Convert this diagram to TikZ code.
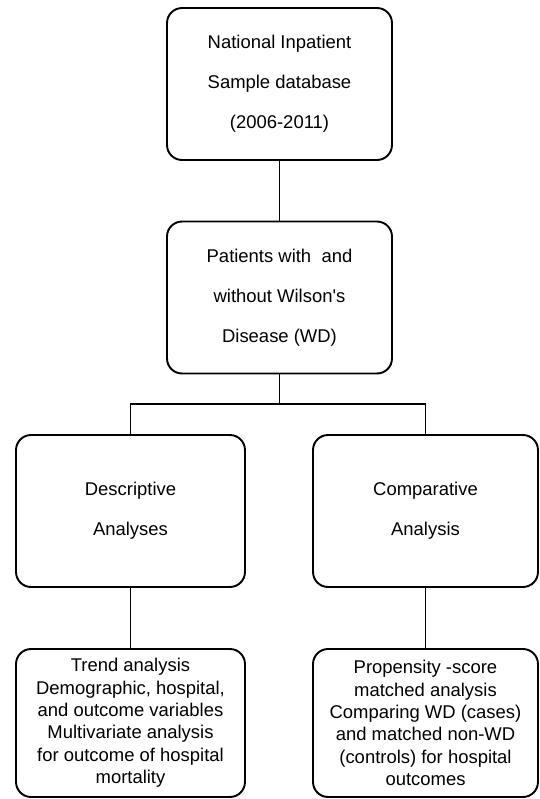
\documentclass[tikz,border=0pt]{standalone}
\usepackage{fontspec}
\setmainfont{Liberation Sans}
\begin{document}
\begin{tikzpicture}[x=0.02cm, y=-0.02cm, line width=1.1pt]
\tikzstyle{boite} = [draw, rounded corners=0.3cm, align=center, minimum width=4.5cm, minimum height=3.04cm, font=\fontsize{10.5}{22.7}\selectfont];
\tikzstyle{resume} = [draw, rounded corners=0.3cm, align=center, minimum width=4.58cm, minimum height=2.96cm, font=\fontsize{10.5}{12.7}\selectfont];
\useasboundingbox (0,0) rectangle (539,799);

\node[boite] (nis) at (279.5, 84) {National Inpatient\\Sample database\\(2006-2011)};
\node[boite] (patients) at (279.5, 297.5) {Patients with~ and\\without Wilson\textquotesingle s\\Disease (WD)};
\node[boite, minimum width=4.58cm] (desc) at (130.5, 511) {Descriptive\\Analyses};
\node[boite, minimum width=4.5cm] (comp) at (425.5, 511) {Comparative\\Analysis};
\node[resume] (tendance) at (130.5, 723) {Trend analysis\\Demographic, hospital,\\and outcome variables\\Multivariate analysis\\for outcome of hospital\\mortality};
\node[resume, minimum width=4.5cm] (score) at (425.5, 723) {Propensity -score\\matched analysis\\Comparing WD (cases)\\and matched non-WD\\(controls) for hospital\\outcomes};
\coordinate (fourche) at (279.5, 404);

\draw (nis) -- (patients);
\draw (patients) -- (fourche);
\draw (desc) |- (fourche) -| (comp);
\draw (desc) -- (tendance);
\draw (comp) -- (score);
\end{tikzpicture}
\end{document}
